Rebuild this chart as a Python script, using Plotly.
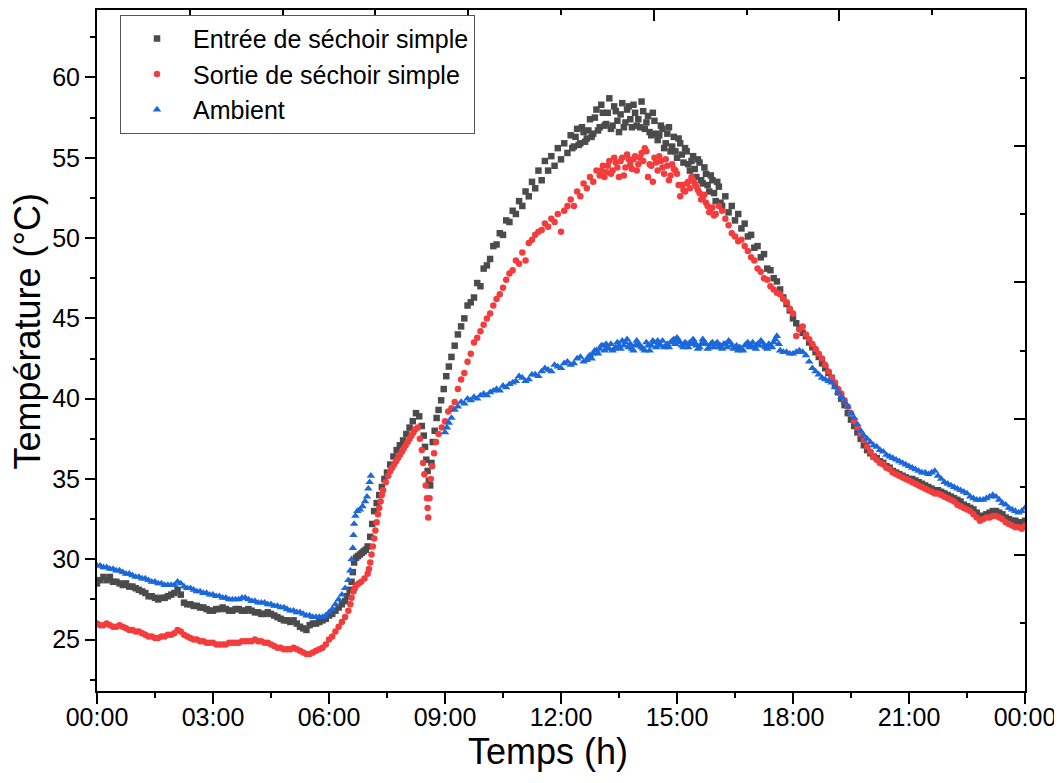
import plotly.graph_objects as go

# ---------------- data (time in minutes since 00:00, temperature in °C) ----------------
entree_morning = [
    (0, 28.5), (5, 28.7), (10, 28.9), (15, 28.7), (20, 28.9), (25, 28.6), (30, 28.6), (35, 28.5),
    (40, 28.4), (45, 28.5), (50, 28.3), (55, 28.3), (60, 28.2), (65, 28.1), (70, 28.0), (75, 27.9),
    (80, 27.7), (85, 27.7), (90, 27.6), (95, 27.5), (100, 27.6), (105, 27.6), (110, 27.7), (115, 27.8),
    (120, 27.9), (125, 28.1), (130, 27.8), (135, 27.3), (140, 27.2), (145, 27.2), (150, 27.1), (155, 27.1),
    (160, 27.0), (165, 27.0), (170, 26.9), (175, 26.8), (180, 26.8), (185, 26.9), (190, 26.9), (195, 27.0),
    (200, 26.9), (205, 26.8), (210, 26.8), (215, 26.9), (220, 26.9), (225, 26.8), (230, 26.8), (235, 26.9),
    (240, 26.8), (245, 26.7), (250, 26.7), (255, 26.6), (260, 26.6), (265, 26.7), (270, 26.6), (275, 26.5),
    (280, 26.4), (285, 26.3), (290, 26.2), (295, 26.2), (300, 26.1), (305, 26.2), (310, 26.0), (315, 25.8),
    (320, 25.7), (325, 25.6), (330, 25.9), (335, 26.0), (340, 26.0), (345, 26.1), (350, 26.2), (355, 26.3),
    (360, 26.5), (365, 26.6), (370, 26.8), (375, 27.0), (380, 27.2), (385, 27.4), (388, 27.7), (392, 28.1),
    (395, 28.6), (397, 29.2), (399, 29.8), (402, 30.1), (405, 30.2), (408, 30.3), (411, 30.4), (414, 30.5),
    (417, 30.6), (420, 30.8), (424, 31.4), (427, 32.2), (430, 33.0), (434, 33.5), (438, 34.0), (442, 34.5),
    (446, 35.0), (450, 35.4), (455, 35.9), (460, 36.4), (465, 36.8), (470, 37.1), (475, 37.4), (480, 37.8),
    (485, 38.2), (490, 38.6), (495, 39.1), (500, 38.9), (504, 38.3), (507, 37.7), (509, 37.0), (511, 36.2),
    (513, 35.5), (515, 34.9), (517, 34.6), (519, 36.0), (521, 37.3), (524, 38.0), (527, 38.8), (530, 39.3),
    (534, 39.9), (538, 40.6), (542, 41.4), (546, 42.0), (550, 42.6), (555, 43.3), (560, 44.0), (565, 44.5),
]
entree_midday = [
    (570, 45.0), (575, 45.8), (580, 46.0), (585, 46.3), (590, 47.2), (595, 47.0), (600, 48.1), (605, 48.3),
    (610, 48.7), (615, 49.5), (620, 49.6), (625, 50.3), (630, 50.2), (635, 51.1), (640, 51.0), (645, 51.7),
    (650, 51.5), (655, 52.3), (660, 52.0), (665, 52.9), (670, 52.6), (675, 53.5), (680, 53.1), (685, 54.2),
    (690, 53.6), (695, 54.8), (700, 54.2), (705, 55.1), (710, 54.5), (715, 55.6), (720, 54.9), (725, 55.9),
    (730, 55.3), (735, 56.4), (740, 55.7), (745, 56.8), (750, 55.9), (755, 56.6), (760, 56.2), (765, 57.4),
    (770, 56.5), (775, 58.0), (780, 56.9), (785, 57.8), (790, 57.1), (795, 58.7), (800, 57.0), (805, 57.9),
    (810, 56.6), (815, 58.4), (820, 57.2), (825, 58.2), (830, 56.9), (835, 57.8), (840, 57.4), (845, 58.5),
    (850, 56.8), (855, 57.6), (860, 56.4), (865, 57.3), (870, 56.1), (875, 57.0), (880, 55.6), (885, 56.5),
    (890, 55.4), (895, 56.3), (900, 55.0), (905, 55.9), (910, 54.7), (915, 55.4), (920, 54.2), (925, 55.1),
    (930, 53.8), (935, 54.7), (940, 53.4), (945, 54.0), (950, 52.9), (955, 53.6), (960, 52.3), (965, 53.2),
    (970, 52.0), (975, 52.6), (980, 51.6), (985, 52.0), (990, 51.1), (995, 51.5), (1000, 50.6), (1005, 50.9),
    (1010, 50.1), (1015, 50.2), (1020, 49.4), (1025, 49.5), (1030, 48.8), (1035, 49.0), (1040, 48.1),
    (1045, 48.0), (1050, 47.5), (1055, 47.3), (1060, 46.8), (1065, 46.3), (1070, 45.9), (1075, 45.5),
    (1080, 45.0),
]
entree_peak_scatter = [
    (737.5, 55.6), (742.5, 56.3), (747.5, 55.8), (752.5, 56.9), (757.5, 56.0), (762.5, 56.7), (767.5, 56.3),
    (772.5, 57.5), (777.5, 56.7), (782.5, 58.3), (787.5, 57.0), (792.5, 57.8), (797.5, 56.8), (802.5, 58.2),
    (807.5, 57.3), (812.5, 57.7), (817.5, 56.9), (822.5, 58.0), (827.5, 57.4), (832.5, 58.3), (837.5, 57.0),
    (842.5, 56.9), (847.5, 57.9), (852.5, 57.2), (857.5, 56.6), (862.5, 57.8), (867.5, 56.5), (872.5, 56.4),
    (877.5, 56.8), (882.5, 55.9), (887.5, 56.9), (892.5, 55.7), (897.5, 55.4), (902.5, 56.2), (907.5, 55.2),
    (912.5, 55.6), (917.5, 54.6), (922.5, 54.8), (927.5, 54.3), (932.5, 54.9), (937.5, 53.6), (942.5, 54.4),
    (947.5, 53.3), (952.5, 53.9), (957.5, 52.8), (962.5, 53.5), (967.5, 52.2),
]
entree_evening = [
    (1085, 44.7), (1090, 44.4), (1095, 44.1), (1100, 43.9), (1105, 43.5), (1110, 43.2), (1115, 42.9),
    (1120, 42.6), (1125, 42.2), (1130, 41.9), (1135, 41.6), (1140, 41.3), (1145, 40.9), (1150, 40.4),
    (1155, 40.0), (1160, 39.6), (1165, 39.1), (1170, 38.7), (1175, 38.3), (1180, 37.9), (1185, 37.5),
    (1190, 37.1), (1195, 36.8), (1200, 36.6), (1205, 36.4), (1210, 36.3), (1215, 36.1), (1220, 36.0),
    (1225, 35.8), (1230, 35.7), (1235, 35.5), (1240, 35.4), (1245, 35.3), (1250, 35.2), (1255, 35.1),
    (1260, 35.0), (1265, 35.0), (1270, 34.9), (1275, 34.8), (1280, 34.7), (1285, 34.6), (1290, 34.5),
    (1295, 34.4), (1300, 34.3), (1305, 34.3), (1310, 34.2), (1315, 34.1), (1320, 34.0), (1325, 33.9),
    (1330, 33.8), (1335, 33.7), (1340, 33.6), (1345, 33.4), (1350, 33.3), (1355, 33.2), (1360, 33.1),
    (1365, 32.9), (1370, 32.7), (1375, 32.7), (1380, 32.8), (1385, 32.9), (1390, 33.0), (1395, 33.0),
    (1400, 32.9), (1405, 32.8), (1410, 32.6), (1415, 32.5), (1420, 32.4), (1425, 32.4), (1430, 32.3),
    (1435, 32.3), (1440, 32.4),
]

sortie_morning = [
    (0, 26.0), (5, 25.9), (10, 25.9), (15, 26.0), (20, 25.9), (25, 25.8), (30, 25.8), (35, 25.9),
    (40, 25.8), (45, 25.7), (50, 25.6), (55, 25.6), (60, 25.5), (65, 25.5), (70, 25.4), (75, 25.3),
    (80, 25.2), (85, 25.2), (90, 25.1), (95, 25.1), (100, 25.2), (105, 25.2), (110, 25.3), (115, 25.3),
    (120, 25.4), (125, 25.6), (130, 25.5), (135, 25.3), (140, 25.2), (145, 25.1), (150, 25.0), (155, 25.0),
    (160, 24.9), (165, 24.9), (170, 24.8), (175, 24.8), (180, 24.8), (185, 24.7), (190, 24.7), (195, 24.7),
    (200, 24.7), (205, 24.8), (210, 24.8), (215, 24.8), (220, 24.8), (225, 24.9), (230, 24.9), (235, 24.9),
    (240, 24.9), (245, 25.0), (250, 24.9), (255, 24.9), (260, 24.8), (265, 24.8), (270, 24.7), (275, 24.6),
    (280, 24.5), (285, 24.5), (290, 24.4), (295, 24.4), (300, 24.4), (305, 24.5), (310, 24.4), (315, 24.3),
    (320, 24.2), (325, 24.1), (330, 24.1), (335, 24.2), (340, 24.3), (345, 24.4), (350, 24.5), (355, 24.7),
    (360, 25.0), (365, 25.2), (370, 25.5), (375, 25.8), (380, 26.1), (385, 26.4), (390, 26.8), (393, 27.2),
    (395, 27.6), (398, 28.0), (400, 28.2), (403, 28.4), (406, 28.5), (410, 28.6), (415, 28.8), (420, 29.1),
    (422, 29.4), (424, 29.8), (426, 30.3), (428, 30.8), (430, 31.3), (432, 31.8), (434, 32.3), (436, 32.8),
    (438, 33.2), (440, 33.6), (442, 34.0), (444, 34.3), (448, 34.8), (452, 35.2), (455, 35.5), (458, 35.7),
    (461, 35.9), (464, 36.1), (467, 36.3), (470, 36.5), (473, 36.7), (476, 36.9), (479, 37.1), (482, 37.3),
    (485, 37.5), (488, 37.7), (491, 37.9), (494, 38.1), (498, 38.2), (501, 37.5), (504, 36.8), (506, 36.0),
    (508, 35.3), (510, 34.6), (512, 33.8), (513, 33.2), (514, 32.6), (516, 33.8), (518, 35.0), (520, 35.8),
    (523, 36.6), (526, 37.3), (530, 37.8), (535, 38.2),
]
sortie_midday = [
    (540, 38.6), (545, 39.2), (550, 39.4), (555, 39.8), (560, 40.6), (565, 41.2), (570, 41.6), (575, 42.3),
    (580, 42.8), (585, 43.5), (590, 43.8), (595, 44.2), (600, 44.6), (605, 45.0), (610, 45.3), (615, 45.8),
    (620, 46.2), (625, 46.5), (630, 46.9), (635, 47.4), (640, 47.8), (645, 48.0), (650, 48.6), (655, 48.4),
    (660, 49.1), (665, 48.6), (670, 49.7), (675, 49.9), (680, 50.2), (685, 50.4), (690, 50.5), (695, 50.9),
    (700, 50.7), (705, 51.2), (710, 51.0), (715, 51.5), (720, 50.4), (725, 51.7), (730, 52.0), (735, 52.4),
    (740, 52.0), (745, 52.9), (750, 52.6), (755, 53.4), (760, 53.1), (765, 53.8), (770, 53.5), (775, 54.2),
    (780, 53.9), (785, 54.5), (790, 54.1), (795, 54.8), (800, 54.2), (805, 54.7), (810, 53.8), (815, 55.0),
    (820, 54.4), (825, 54.9), (830, 54.3), (835, 55.1), (840, 54.6), (845, 55.3), (850, 55.6), (855, 53.8),
    (860, 54.5), (865, 55.0), (870, 54.2), (875, 54.8), (880, 54.0), (885, 54.5), (890, 53.9), (895, 54.3),
    (900, 54.0), (905, 52.6), (910, 53.0), (915, 53.4), (920, 53.1), (925, 53.6), (930, 53.2), (935, 52.8),
    (940, 52.5), (945, 52.2), (950, 51.6), (955, 51.9), (960, 51.5), (965, 52.0), (970, 51.7), (975, 51.2),
    (980, 50.8), (985, 50.3), (990, 50.1), (995, 49.8), (1000, 49.9), (1005, 49.5), (1010, 49.2),
    (1015, 48.8), (1020, 48.6), (1025, 48.1), (1030, 47.9), (1035, 47.5), (1040, 47.4), (1045, 47.0),
    (1050, 46.8), (1055, 46.6), (1060, 46.5), (1065, 46.2), (1070, 46.0), (1075, 45.6), (1080, 45.3),
    (1085, 43.9), (1090, 44.3), (1095, 44.5), (1100, 44.0),
]
sortie_peak_scatter = [
    (782.5, 54.2), (787.5, 53.8), (792.5, 54.5), (797.5, 54.0), (802.5, 55.0), (807.5, 54.4), (812.5, 54.8),
    (817.5, 53.9), (822.5, 55.2), (827.5, 54.6), (832.5, 54.9), (837.5, 54.2), (842.5, 55.0), (847.5, 54.8),
    (852.5, 55.4), (857.5, 54.6), (862.5, 53.5), (867.5, 54.7), (872.5, 55.1), (877.5, 54.4), (882.5, 54.9),
    (887.5, 53.6), (892.5, 54.6), (897.5, 54.2), (902.5, 53.3), (907.5, 53.3), (912.5, 52.9), (917.5, 53.5),
    (922.5, 53.8), (927.5, 53.4), (932.5, 53.0), (937.5, 52.4), (942.5, 52.7), (947.5, 52.0), (952.5, 51.8),
    (957.5, 51.4),
]
sortie_evening = [
    (1105, 43.7), (1110, 43.4), (1115, 43.1), (1120, 42.8), (1125, 42.5), (1130, 42.1), (1135, 41.7),
    (1140, 41.3), (1145, 41.0), (1150, 40.6), (1155, 40.3), (1160, 39.9), (1165, 39.5), (1170, 39.1),
    (1175, 38.6), (1180, 38.2), (1185, 37.8), (1190, 37.4), (1195, 37.0), (1200, 36.7), (1205, 36.4),
    (1210, 36.2), (1215, 36.0), (1220, 35.9), (1225, 35.7), (1230, 35.6), (1235, 35.4), (1240, 35.3),
    (1245, 35.2), (1250, 35.1), (1255, 35.0), (1260, 34.9), (1265, 34.8), (1270, 34.7), (1275, 34.6),
    (1280, 34.5), (1285, 34.4), (1290, 34.3), (1295, 34.2), (1300, 34.1), (1305, 34.1), (1310, 34.0),
    (1315, 33.9), (1320, 33.8), (1325, 33.7), (1330, 33.6), (1335, 33.4), (1340, 33.3), (1345, 33.2),
    (1350, 33.1), (1355, 33.0), (1360, 32.8), (1365, 32.6), (1370, 32.4), (1375, 32.5), (1380, 32.6),
    (1385, 32.6), (1390, 32.7), (1395, 32.7), (1400, 32.6), (1405, 32.5), (1410, 32.3), (1415, 32.2),
    (1420, 32.1), (1425, 32.0), (1430, 32.0), (1435, 31.9), (1440, 32.1),
]

ambient_morning = [
    (0, 29.6), (5, 29.6), (10, 29.5), (15, 29.5), (20, 29.4), (25, 29.4), (30, 29.3), (35, 29.3),
    (40, 29.2), (45, 29.1), (50, 29.1), (55, 29.0), (60, 28.9), (65, 28.9), (70, 28.8), (75, 28.8),
    (80, 28.7), (85, 28.6), (90, 28.6), (95, 28.5), (100, 28.5), (105, 28.4), (110, 28.4), (115, 28.4),
    (120, 28.4), (125, 28.6), (130, 28.5), (135, 28.3), (140, 28.2), (145, 28.2), (150, 28.1), (155, 28.0),
    (160, 28.0), (165, 27.9), (170, 27.9), (175, 27.8), (180, 27.8), (185, 27.7), (190, 27.7), (195, 27.6),
    (200, 27.6), (205, 27.5), (210, 27.5), (215, 27.5), (220, 27.5), (225, 27.6), (230, 27.6), (235, 27.5),
    (240, 27.4), (245, 27.4), (250, 27.3), (255, 27.3), (260, 27.3), (265, 27.2), (270, 27.2), (275, 27.1),
    (280, 27.1), (285, 27.0), (290, 27.0), (295, 26.9), (300, 26.8), (305, 26.8), (310, 26.7), (315, 26.7),
    (320, 26.6), (325, 26.5), (330, 26.5), (335, 26.4), (340, 26.4), (345, 26.4), (350, 26.4), (355, 26.5),
    (360, 26.7), (365, 26.9), (370, 27.2), (375, 27.5), (380, 27.8), (385, 28.2), (390, 28.7), (393, 29.3),
    (395, 30.0), (397, 30.7), (398, 31.5), (399, 32.2), (401, 32.7), (404, 33.0), (408, 33.1), (412, 33.3),
    (416, 33.6), (419, 33.9), (421, 34.4), (423, 34.8), (425, 35.2),
]
ambient_day = [
    (540, 37.9), (543, 38.2), (546, 38.5), (550, 38.8), (555, 39.3), (560, 39.5), (565, 39.8), (570, 39.7),
    (575, 40.0), (580, 39.9), (585, 40.1), (590, 40.0), (595, 40.2), (600, 40.3), (605, 40.2), (610, 40.4),
    (615, 40.5), (620, 40.6), (625, 40.5), (630, 40.8), (635, 40.7), (640, 40.9), (645, 41.0), (650, 41.1),
    (655, 41.4), (660, 41.3), (665, 41.1), (670, 41.2), (675, 41.5), (680, 41.5), (685, 41.4), (690, 41.7),
    (695, 41.9), (700, 41.8), (705, 41.7), (710, 42.1), (715, 42.0), (720, 41.9), (725, 42.2), (730, 42.3),
    (735, 42.1), (740, 42.2), (745, 42.5), (750, 42.6), (755, 42.3), (760, 42.4), (765, 42.7), (770, 42.8),
    (775, 43.0), (780, 43.1), (785, 43.3), (790, 43.4), (795, 43.1), (800, 43.0), (805, 43.2), (810, 43.3),
    (815, 43.6), (820, 43.5), (825, 43.2), (830, 43.1), (835, 43.3), (840, 43.4), (845, 43.2), (850, 43.0),
    (855, 43.3), (860, 43.3), (865, 43.5), (870, 43.6), (875, 43.3), (880, 43.2), (885, 43.4), (890, 43.5),
    (895, 43.7), (900, 43.8), (905, 43.5), (910, 43.2), (915, 43.4), (920, 43.5), (925, 43.7), (930, 43.3),
    (935, 43.2), (940, 43.7), (945, 43.4), (950, 43.2), (955, 43.5), (960, 43.4), (965, 43.2), (970, 43.1),
    (975, 43.4), (980, 43.6), (985, 43.3), (990, 43.2), (995, 43.0), (1000, 43.1), (1005, 43.3), (1010, 43.5),
    (1015, 43.3), (1020, 43.2), (1025, 43.4), (1030, 43.6), (1035, 43.3), (1040, 43.1), (1045, 43.3),
    (1050, 43.5), (1055, 43.9), (1058, 43.4), (1060, 43.0), (1065, 42.9), (1070, 42.9), (1075, 42.8),
    (1080, 42.8), (1085, 42.9), (1090, 43.0), (1095, 42.9), (1100, 42.7),
]
ambient_plateau_scatter = [
    (762.5, 42.6), (767.5, 42.5), (772.5, 43.0), (777.5, 42.8), (782.5, 43.3), (787.5, 43.0), (792.5, 43.2),
    (797.5, 43.4), (802.5, 43.1), (807.5, 43.5), (812.5, 43.1), (817.5, 43.3), (822.5, 43.7), (827.5, 43.4),
    (832.5, 43.0), (837.5, 43.6), (842.5, 43.3), (847.5, 43.1), (852.5, 43.5), (857.5, 43.0), (862.5, 43.6),
    (867.5, 43.2), (872.5, 43.4), (877.5, 43.6), (882.5, 43.3), (887.5, 43.2), (892.5, 43.6), (897.5, 43.4),
    (902.5, 43.6), (907.5, 43.3), (912.5, 43.5), (917.5, 43.2), (922.5, 43.4), (927.5, 43.5), (932.5, 43.1),
    (937.5, 43.4), (942.5, 43.5), (947.5, 43.1), (952.5, 43.4), (957.5, 43.2), (962.5, 43.5), (967.5, 43.3),
    (972.5, 43.4), (977.5, 43.2), (982.5, 43.5), (987.5, 43.1), (992.5, 43.3), (997.5, 43.2), (1002.5, 43.0),
    (1007.5, 43.4), (1012.5, 43.2), (1017.5, 43.5), (1022.5, 43.1), (1027.5, 43.3), (1032.5, 43.5),
    (1037.5, 43.2), (1042.5, 43.4), (1047.5, 43.2), (1052.5, 43.7),
]
ambient_evening = [
    (1105, 42.3), (1110, 41.9), (1115, 41.7), (1120, 41.5), (1125, 41.3), (1130, 41.2), (1135, 41.1),
    (1140, 41.0), (1145, 40.7), (1150, 40.4), (1155, 40.1), (1160, 39.8), (1165, 39.5), (1170, 39.1),
    (1175, 38.8), (1180, 38.4), (1185, 38.0), (1190, 37.7), (1195, 37.5), (1200, 37.3), (1205, 37.1),
    (1210, 37.0), (1215, 36.8), (1220, 36.7), (1225, 36.5), (1230, 36.4), (1235, 36.3), (1240, 36.2),
    (1245, 36.1), (1250, 36.0), (1255, 35.9), (1260, 35.8), (1265, 35.7), (1270, 35.6), (1275, 35.5),
    (1280, 35.4), (1285, 35.4), (1290, 35.3), (1295, 35.4), (1300, 35.5), (1305, 35.2), (1310, 35.0),
    (1315, 34.8), (1320, 34.7), (1325, 34.6), (1330, 34.5), (1335, 34.4), (1340, 34.3), (1345, 34.2),
    (1350, 34.1), (1355, 33.9), (1360, 33.8), (1365, 33.7), (1370, 33.7), (1375, 33.7), (1380, 33.8),
    (1385, 33.9), (1390, 34.0), (1395, 33.9), (1400, 33.7), (1405, 33.5), (1410, 33.4), (1415, 33.2),
    (1420, 33.1), (1425, 33.0), (1430, 32.9), (1435, 33.0), (1440, 33.2),
]

series_names = ["Entrée de séchoir simple", "Sortie de séchoir simple", "Ambient"]
x_tick_hours = [0, 3, 6, 9, 12, 15, 18, 21, 24]
x_tick_labels = ["00:00", "03:00", "06:00", "09:00", "12:00", "15:00", "18:00", "21:00", "00:00"]
y_tick_vals = [25, 30, 35, 40, 45, 50, 55, 60]
x_title = "Temps (h)"
y_title = "Température (°C)"

# ---------------- build ----------------
def unzip(*segments):
    ts, vs = [], []
    for seg in segments:
        for t, v in seg:
            ts.append(t / 60.0)
            vs.append(v)
    return ts, vs

styles = [
    dict(color="#4b4b4b", symbol="square", size=6.5),
    dict(color="#f53c3c", symbol="circle", size=6.5),
    dict(color="#1a68db", symbol="triangle-up", size=7.5),
]
data_sets = [
    unzip(entree_morning, entree_midday, entree_peak_scatter, entree_evening),
    unzip(sortie_morning, sortie_midday, sortie_peak_scatter, sortie_evening),
    unzip(ambient_morning, ambient_day, ambient_plateau_scatter, ambient_evening),
]

FONT = "Arial, 'Liberation Sans', sans-serif"
fig = go.Figure()
for name, (xs, ys), st in zip(series_names, data_sets, styles):
    fig.add_trace(go.Scatter(
        x=xs, y=ys, mode="markers", name=name,
        marker=dict(color=st["color"], symbol=st["symbol"], size=st["size"], line=dict(width=0)),
    ))

# empty trace to materialise the top/right frame axes
fig.add_trace(go.Scatter(x=[None], y=[None], xaxis="x2", yaxis="y2", showlegend=False, hoverinfo="skip"))

minor_x = [1.5 + 3 * i for i in range(8)]
minor_y = [22.5 + 5 * i for i in range(9)]

# page body has an 8px default margin: figure is sized so the plot frame lands where the reference has it
fig.update_layout(
    width=1054, height=775,
    paper_bgcolor="white", plot_bgcolor="white",
    margin=dict(l=89, r=37, t=2, b=92, autoexpand=False),
    font=dict(family=FONT, color="black"),
    showlegend=True,
    legend=dict(
        x=0.0248, y=0.993, xanchor="left", yanchor="top",
        bgcolor="white", bordercolor="#555555", borderwidth=1,
        font=dict(size=25, family=FONT, color="black"),
        itemwidth=62, tracegroupgap=0,
    ),
    xaxis=dict(
        range=[0, 24], tickmode="array", tickvals=x_tick_hours, ticktext=x_tick_labels,
        ticks="outside", ticklen=11, tickwidth=2, tickcolor="black", ticklabelstandoff=-8,
        ticklabeloverflow="allow",
        minor=dict(tickmode="array", tickvals=minor_x, ticks="outside", ticklen=5, tickwidth=2, tickcolor="black"),
        showline=True, linecolor="black", linewidth=2, showgrid=False, zeroline=False,
        tickfont=dict(size=25, family=FONT, color="black"), automargin=False,
    ),
    yaxis=dict(
        range=[21.8, 64.2], tickmode="array", tickvals=y_tick_vals,
        ticks="outside", ticklen=10, tickwidth=2, tickcolor="black",
        minor=dict(tickmode="array", tickvals=minor_y, ticks="outside", ticklen=5, tickwidth=2, tickcolor="black"),
        showline=True, linecolor="black", linewidth=2, showgrid=False, zeroline=False,
        tickfont=dict(size=25, family=FONT, color="black"), automargin=False,
    ),
    xaxis2=dict(
        overlaying="x", side="top", range=[0, 1], dtick=0.2, tick0=0,
        ticks="inside", ticklen=11, tickwidth=2, tickcolor="black", showticklabels=False,
        minor=dict(dtick=0.1, ticks="inside", ticklen=5, tickwidth=2, tickcolor="black"),
        showline=True, linecolor="black", linewidth=2, showgrid=False, zeroline=False, automargin=False,
    ),
    yaxis2=dict(
        overlaying="y", side="right", range=[0, 1], dtick=0.2, tick0=0,
        ticks="inside", ticklen=11, tickwidth=2, tickcolor="black", showticklabels=False,
        minor=dict(dtick=0.1, ticks="inside", ticklen=5, tickwidth=2, tickcolor="black"),
        showline=True, linecolor="black", linewidth=2, showgrid=False, zeroline=False, automargin=False,
    ),
    annotations=[
        dict(text=x_title, xref="paper", yref="paper", x=0.5, y=0, xanchor="center", yanchor="middle",
             xshift=-13, yshift=-60, showarrow=False, font=dict(size=36, family=FONT, color="black")),
        dict(text=y_title, xref="paper", yref="paper", x=0, y=0.5, xanchor="center", yanchor="middle",
             xshift=-70, yshift=19, textangle=-90, showarrow=False,
             font=dict(size=36, family=FONT, color="black")),
    ],
)

fig.write_html("out.html")
